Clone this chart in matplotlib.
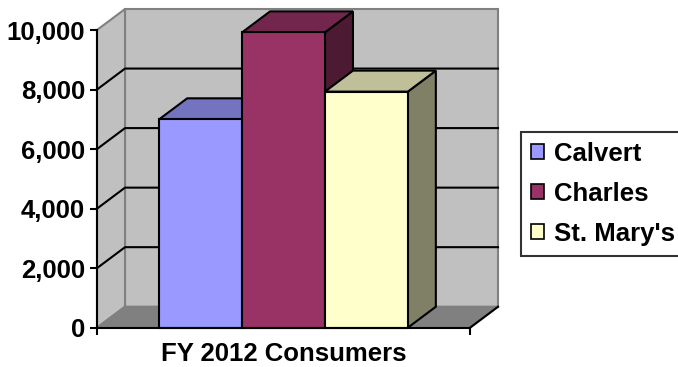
import matplotlib.pyplot as plt
from matplotlib.patches import Polygon, Patch
from matplotlib.ticker import StrMethodFormatter

plt.rcParams['font.family'] = ['Liberation Sans', 'DejaVu Sans']
plt.rcParams['font.weight'] = 'bold'

# data
names = ['Calvert', 'Charles', "St. Mary's"]
values = [7000, 9920, 7930]
front_cols = ['#9999ff', '#993366', '#ffffcc']
top_cols = ['#7373bf', '#73264d', '#bfbf99']
side_cols = ['#4d4d80', '#4d1a33', '#808066']
xlabel = 'FY 2012 Consumers'
yticks = [0, 2000, 4000, 6000, 8000, 10000]

fig = plt.figure(figsize=(6.78, 3.67), dpi=100)
ax = fig.add_axes([97/678, 39.3/367, 373/678, 297.7/367])
x0, x1 = -2.25, 2.25
ymax = 10000
ax.set_xlim(x0, x1)
ax.set_ylim(0, ymax)

# depth offset in data units (3d look)
dx = 0.338
dy = 705

def poly(pts, fc, ec='black', lw=1.5, z=1):
    ax.add_patch(Polygon(pts, closed=True, fc=fc, ec=ec, lw=lw, zorder=z,
                         clip_on=False, joinstyle='miter'))

# walls and floor
poly([(x0+dx, dy), (x1+dx, dy), (x1+dx, ymax+dy), (x0+dx, ymax+dy)],
     '#c0c0c0', ec='#808080', z=1)
poly([(x0, 0), (x0+dx, dy), (x0+dx, ymax+dy), (x0, ymax)],
     '#c0c0c0', ec='#808080', z=1)
poly([(x0, 0), (x1, 0), (x1+dx, dy), (x0+dx, dy)], '#808080', ec='#808080', z=1)
ax.plot([x1, x1+dx], [0, dy], color='black', lw=1.5, zorder=2, clip_on=False)

# gridlines on side wall and back wall
for v in yticks[1:-1]:
    ax.plot([x0, x0+dx, x1+dx], [v, v+dy, v+dy], color='black', lw=1.5,
            zorder=2, clip_on=False)

# bars
for i, (val, fc, tc, sc) in enumerate(zip(values, front_cols, top_cols, side_cols)):
    l, r = i - 1.5, i - 0.5
    poly([(r, 0), (r+dx, dy), (r+dx, val+dy), (r, val)], sc, z=3)
    poly([(l, val), (r, val), (r+dx, val+dy), (l+dx, val+dy)], tc, z=3)
    poly([(l, 0), (r, 0), (r, val), (l, val)], fc, z=3)

# axes look
for s in ['top', 'right']:
    ax.spines[s].set_visible(False)
for s in ['left', 'bottom']:
    ax.spines[s].set_linewidth(1.5)
    ax.spines[s].set_zorder(4)
ax.patch.set_visible(False)
ax.set_yticks(yticks)
ax.yaxis.set_major_formatter(StrMethodFormatter('{x:,.0f}'))
ax.set_xticks([x0, x1])
ax.set_xticklabels([])
ax.tick_params(axis='y', direction='out', length=5, width=1.5, pad=3.5,
               labelsize=18.5)
ax.tick_params(axis='x', direction='out', length=5, width=1.5)
ax.set_xlabel(xlabel, fontsize=18.5, fontweight='bold', labelpad=1.5)

handles = [Patch(fc=c, ec='black', lw=1.2) for c in front_cols]
leg = fig.legend(handles, names, loc='upper left',
                 bbox_to_anchor=(520.7/678, 1 - 131.5/367), fontsize=18.5,
                 frameon=True, fancybox=False, edgecolor='black',
                 handlelength=0.5, handleheight=0.5, handletextpad=0.4,
                 borderpad=0.4, labelspacing=0.62, borderaxespad=0)
leg.get_frame().set_linewidth(1.5)
for t in leg.get_texts():
    t.set_fontweight('bold')

fig.savefig('out.png', dpi=100)
